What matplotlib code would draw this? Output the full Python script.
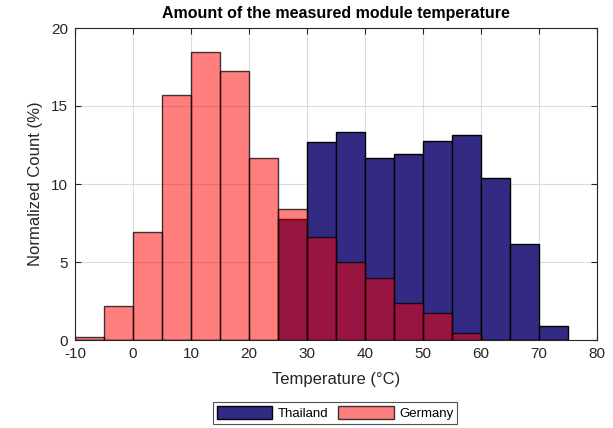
import numpy as np
import matplotlib.pyplot as plt

plt.rcParams['font.family'] = ['Liberation Sans', 'DejaVu Sans']
plt.rcParams['axes.unicode_minus'] = False

# bin edges (5 degC bins) and normalized counts in %
edges = np.arange(-10, 80, 5)
germany = [0.2, 2.2, 6.95, 15.7, 18.45, 17.25, 11.65, 8.4, 6.6, 5.0, 3.95, 2.35, 1.75, 0.45, 0, 0, 0]
thailand = [0, 0, 0, 0, 0, 0, 0, 7.75, 12.7, 13.35, 11.65, 11.95, 12.75, 13.15, 10.4, 6.15, 0.9]

navy = '#332B83'

fig = plt.figure(figsize=(6.13, 4.28), dpi=100)
ax = fig.add_axes([75/613, 1-340/428, (597-75)/613, (340-28)/428])
ax.set_axisbelow(True)

ax.bar(edges[:-1], thailand, width=5, align='edge', color=navy,
       edgecolor='black', linewidth=1, label='Thailand')
ax.bar(edges[:-1], germany, width=5, align='edge', facecolor=(1, 0, 0, 0.5),
       edgecolor=(0, 0, 0, 0.75), linewidth=1, label='Germany')

ax.set_xlim(-10, 80)
ax.set_ylim(0, 20)
ax.set_xticks(np.arange(-10, 81, 10))
ax.set_yticks(np.arange(0, 21, 5))
ax.grid(True, color='#dcdcdc', linewidth=0.8)
ax.tick_params(direction='in', top=True, right=True, length=4,
               labelsize=11, colors='#262626', pad=5)
for s in ax.spines.values():
    s.set_color('#262626')
    s.set_linewidth(0.8)

ax.set_xlabel('Temperature (°C)', fontsize=12, color='#262626', labelpad=8)
ax.set_ylabel('Normalized Count (%)', fontsize=12, color='#262626', labelpad=6)
ax.set_title('Amount of the measured module temperature', fontsize=11.5,
             fontweight='bold', pad=7)

leg = fig.legend(loc='center', bbox_to_anchor=(335/613, 1-413/428), ncol=2,
                 fontsize=9.5, frameon=True, fancybox=False, edgecolor='#262626',
                 handlelength=4.2, handleheight=1.1, columnspacing=0.8,
                 handletextpad=0.4, borderpad=0.3)
leg.get_frame().set_linewidth(0.8)

fig.savefig('out.png', dpi=100)
